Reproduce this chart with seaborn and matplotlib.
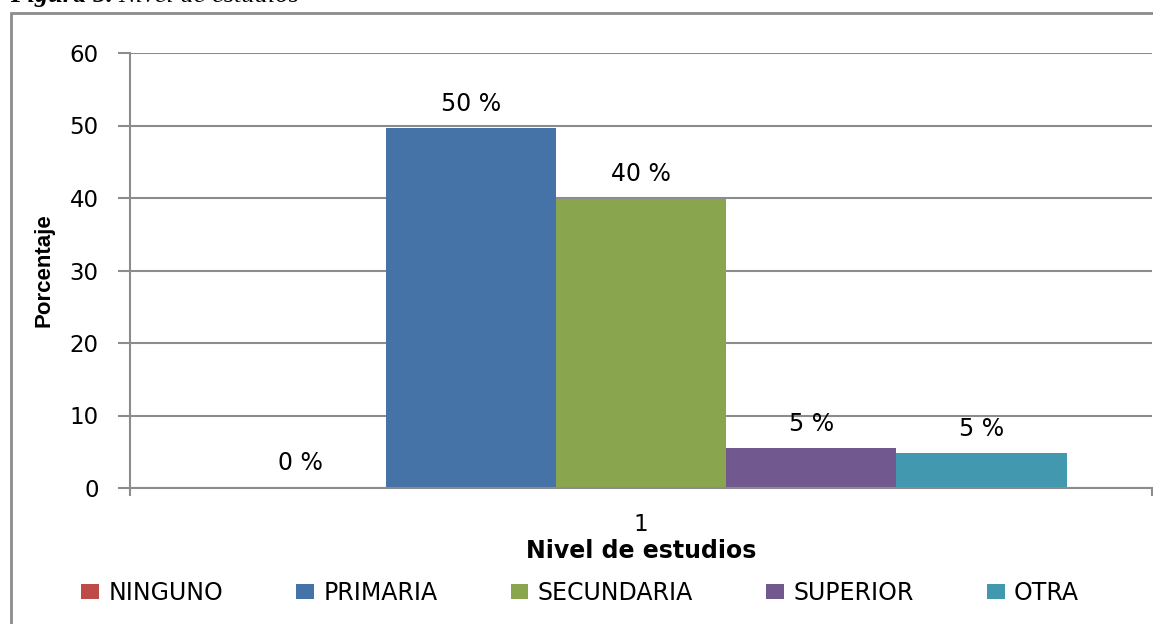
import matplotlib
matplotlib.use("Agg")
import matplotlib.pyplot as plt
import seaborn as sns
import pandas as pd
from matplotlib.patches import Rectangle
from matplotlib.ticker import FixedLocator

# ---- data ----
grupos = ["1"]
niveles = ["NINGUNO", "PRIMARIA", "SECUNDARIA", "SUPERIOR", "OTRA"]
porcentajes = [0.0, 49.6, 39.9, 5.5, 4.8]
etiquetas = ["0 %", "50 %", "40 %", "5 %", "5 %"]
colores = ["#BE4B48", "#4572A7", "#89A54E", "#71588F", "#4198AF"]
yticks = [0, 10, 20, 30, 40, 50, 60]

df = pd.DataFrame({"grupo": grupos * len(niveles), "nivel": niveles, "pct": porcentajes})

sns.set_theme(style="white")
plt.rcParams["font.family"] = ["DejaVu Sans"]
plt.rcParams["text.color"] = "black"
plt.rcParams["axes.labelcolor"] = "black"
plt.rcParams["xtick.color"] = "black"
plt.rcParams["ytick.color"] = "black"

W, H = 1153, 624
fig = plt.figure(figsize=(W / 100, H / 100), dpi=100)
ax = fig.add_axes([130 / W, 1 - 488 / H, (1152 - 130) / W, (488 - 53) / H])

sns.barplot(data=df, x="grupo", y="pct", hue="nivel", hue_order=niveles,
            palette=colores, width=0.833, gap=0, saturation=1, ax=ax,
            linewidth=0, errorbar=None)

grid_c = "#8C8C8C"
ax.set_ylim(0, 60)
ax.set_xlim(-0.5, 0.5)
ax.set_yticks(yticks)
ax.yaxis.grid(True, color=grid_c, linewidth=1.5)
ax.set_axisbelow(True)
for s in ["top", "right"]:
    ax.spines[s].set_visible(False)
for s in ["left", "bottom"]:
    ax.spines[s].set_color(grid_c)
    ax.spines[s].set_linewidth(1.5)

ax.tick_params(axis="y", which="major", left=True, length=8.6, width=1.5,
               color=grid_c, labelsize=16.5, labelcolor="black", pad=14)
ax.tick_params(axis="x", which="major", bottom=False, labelsize=16.5,
               labelcolor="black", pad=12)
ax.xaxis.set_minor_locator(FixedLocator([-0.5, 0.5]))
ax.tick_params(axis="x", which="minor", bottom=True, length=6, width=1.5, color=grid_c)

ax.set_xlabel("Nivel de estudios", fontsize=17, fontweight="bold", labelpad=2, color="black")
ax.set_ylabel("Porcentaje", fontsize=16, fontweight="bold", labelpad=11,
              color="black", family="Liberation Sans")

for cont, lab in zip(ax.containers, etiquetas):
    ax.bar_label(cont, labels=[lab], padding=9, fontsize=17, color="black")

leg = ax.get_legend()
if leg is not None:
    leg.remove()
handles = [Rectangle((0, 0), 1, 1, facecolor=c, edgecolor="none") for c in colores]
fig.legend(handles, niveles, loc="center", bbox_to_anchor=(580 / W, 1 - 593 / H),
           ncol=5, frameon=False, fontsize=17, handlelength=0.75, handleheight=0.6,
           handletextpad=0.4, columnspacing=3.1, labelcolor="black")

# outer chart frame
fig.patches.append(Rectangle((11 / W, -0.05), 1.2, 1 - 13 / H + 0.05,
                             transform=fig.transFigure, fill=False,
                             edgecolor="#8C8C8C", linewidth=2.0, clip_on=False))

# caption (partly cut off at the top)
fig.text(10 / W, 1 - 2 / H, "Figura 5.", fontsize=19, fontweight="bold", style="italic",
         family="Liberation Serif", va="baseline", ha="left")
fig.text(118 / W, 1 - 2 / H, "Nivel de estudios", fontsize=19, style="italic",
         family="Liberation Serif", va="baseline", ha="left")

fig.savefig("out.png", dpi=100)
